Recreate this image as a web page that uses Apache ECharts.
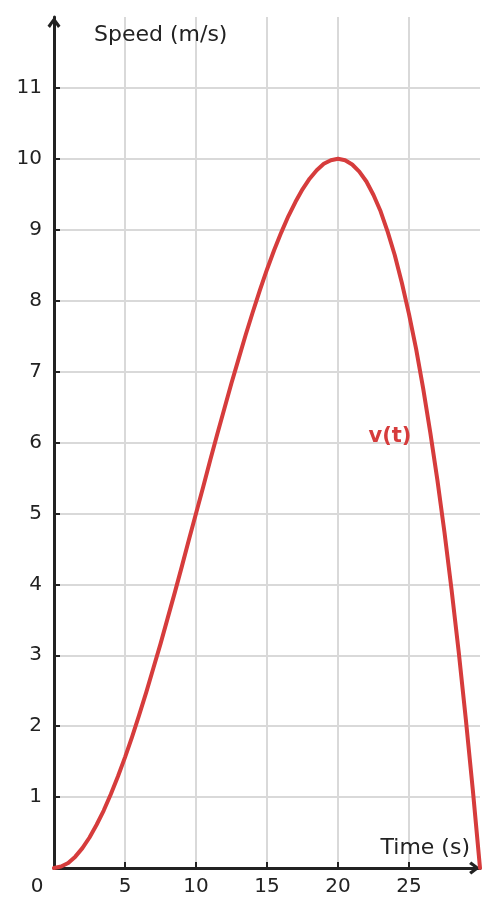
<!DOCTYPE html>
<html>
<head>
<meta charset="utf-8">
<script src="https://cdn.jsdelivr.net/npm/echarts@6/dist/echarts.min.js"></script>
<style>
  html, body { margin: 0; padding: 0; background: #fff; }
  #chart { width: 497px; height: 917px; }
</style>
</head>
<body>
<div id="chart"></div>
<script>
// time in seconds (half-second steps) and speed
const timeValues = [0, 0.5, 1, 1.5, 2, 2.5, 3, 3.5, 4, 4.5, 5, 5.5, 6, 6.5, 7, 7.5,
  8, 8.5, 9, 9.5, 10, 10.5, 11, 11.5, 12, 12.5, 13, 13.5, 14, 14.5, 15, 15.5,
  16, 16.5, 17, 17.5, 18, 18.5, 19, 19.5, 20, 20.5, 21, 21.5, 22, 22.5, 23, 23.5,
  24, 24.5, 25, 25.5, 26, 26.5, 27, 27.5, 28, 28.5, 29, 29.5, 30];
const speedValues = [0, 0.02, 0.07, 0.16, 0.28, 0.43, 0.61, 0.81, 1.04, 1.29, 1.56, 1.85,
  2.16, 2.48, 2.82, 3.16, 3.52, 3.88, 4.25, 4.63, 5.0, 5.37, 5.75, 6.12,
  6.48, 6.84, 7.18, 7.52, 7.84, 8.15, 8.44, 8.71, 8.96, 9.19, 9.39, 9.57,
  9.72, 9.84, 9.93, 9.98, 10.0, 9.98, 9.92, 9.82, 9.68, 9.49, 9.26, 8.97,
  8.64, 8.25, 7.81, 7.32, 6.76, 6.14, 5.47, 4.73, 3.92, 3.05, 2.10, 1.09, 0];
const curveLabel = "v(t)";
const curveLabelAt = [23.66, 6.08];

const font = "DejaVu Sans";
const ink = "#222222";
const red = "#d63c3c";
// open chevron, pointing up
const arrowPath = "path://M6,0 L12,8 L9.7,10 L6,4.6 L2.3,10 L0,8 Z";

const chart = echarts.init(document.getElementById("chart"));

chart.setOption({
  animation: false,
  grid: { left: 54, right: 17, top: 17, bottom: 49, containLabel: false, outerBoundsMode: "none" },
  xAxis: {
    type: "value",
    min: 0,
    max: 30,
    interval: 5,
    name: "Time (s)",
    nameLocation: "end",
    nameGap: -10,
    nameTextStyle: {
      fontFamily: font, fontSize: 22, color: ink,
      align: "right", verticalAlign: "bottom", lineHeight: 40
    },
    axisLine: {
      show: true, onZero: false,
      symbol: ["none", arrowPath], symbolSize: [13, 11], symbolOffset: [0, -5.5],
      lineStyle: { color: ink, width: 3 }
    },
    axisTick: { show: true, inside: true, length: 6, lineStyle: { color: ink, width: 2 } },
    axisLabel: {
      fontFamily: font, fontSize: 20, color: ink, margin: 9,
      showMaxLabel: true,
      formatter: function (v) {
        if (v === 0) return "{o|0}";
        if (v === 30) return "";
        return String(v);
      },
      rich: { o: { fontFamily: font, fontSize: 20, color: ink, padding: [0, 34, 0, 0] } }
    },
    splitLine: { show: true, showMaxLine: false, lineStyle: { color: "#d9d9d9", width: 2 } }
  },
  yAxis: {
    type: "value",
    min: 0,
    max: 12,
    interval: 1,
    name: "Speed (m/s)",
    nameLocation: "end",
    nameGap: -18,
    nameTextStyle: {
      fontFamily: font, fontSize: 22, color: ink,
      align: "left", verticalAlign: "middle", padding: [0, 0, 0, 40]
    },
    axisLine: {
      show: true, onZero: false,
      symbol: ["none", arrowPath], symbolSize: [13, 11], symbolOffset: [0, -5.5],
      lineStyle: { color: ink, width: 3 }
    },
    axisTick: { show: true, inside: true, length: 6, lineStyle: { color: ink, width: 2 } },
    axisLabel: {
      fontFamily: font, fontSize: 20, color: ink, margin: 12,
      showMinLabel: false, showMaxLabel: false
    },
    splitLine: { show: true, showMaxLine: false, lineStyle: { color: "#d9d9d9", width: 2 } }
  },
  series: [
    {
      type: "line",
      data: timeValues.map((t, i) => [t, speedValues[i]]),
      smooth: false,
      showSymbol: false,
      clip: false,
      lineStyle: { color: red, width: 4, join: "round", cap: "round" },
      itemStyle: { color: red }
    }
  ]
});

const labelPos = chart.convertToPixel({ gridIndex: 0 }, curveLabelAt);
chart.setOption({
  graphic: [
    {
      type: "text",
      x: labelPos[0],
      y: labelPos[1],
      style: {
        text: curveLabel,
        fill: red,
        font: "bold 21px 'DejaVu Sans'",
        textAlign: "center",
        textVerticalAlign: "middle"
      }
    }
  ]
});
</script>
</body>
</html>
